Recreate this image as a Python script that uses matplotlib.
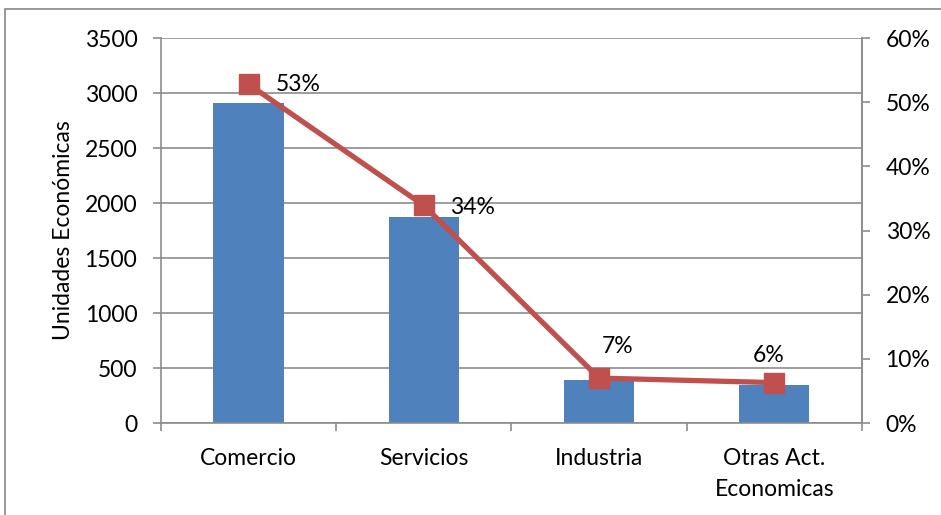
import matplotlib.pyplot as plt
from matplotlib.patches import Rectangle

# Data
categories = ['Comercio', 'Servicios', 'Industria', 'Otras Act.\nEconomicas']
unidades = [2910, 1870, 390, 345]
porcentaje = [52.8, 33.9, 7.0, 6.3]
pct_labels = ['53%', '34%', '7%', '6%']

plt.rcParams['font.family'] = ['Lato', 'DejaVu Sans']
plt.rcParams['font.size'] = 16.5

fig = plt.figure(figsize=(9.41, 5.15), dpi=100)
ax = fig.add_axes([0.171, 0.1786, 0.745, 0.7476])

# outer chart frame (only top/left edge visible)
fig.patches.append(Rectangle((0.0055, -0.1), 1.2, 1.0825, transform=fig.transFigure,
                             fill=False, edgecolor='#888888', linewidth=1.2))

grid_c = '#8c8c8c'
x = range(len(categories))
ax.bar(x, unidades, 0.4, color='#4F81BD', zorder=2)
ax.set_xlim(-0.5, 3.5)
ax.set_ylim(0, 3500)
ax.set_yticks(range(0, 3501, 500))
ax.yaxis.grid(True, color=grid_c, linewidth=1.2, zorder=0)
ax.set_xticks(list(x))
ax.set_xticklabels(categories, linespacing=1.6)
ax.set_xticks([-0.5, 0.5, 1.5, 2.5, 3.5], minor=True)
ax.tick_params(axis='x', which='major', length=0, pad=18)
ax.tick_params(axis='x', which='minor', length=6, color=grid_c, width=1.2)
ax.tick_params(axis='y', length=6, color=grid_c, width=1.2, pad=11)
ax.set_ylabel('Unidades Económicas')
ax.yaxis.label.set_va('center')
ax.yaxis.set_label_coords(-0.139, 0.5)
for s in ['top']:
    ax.spines[s].set_visible(False)
for s in ['left', 'right', 'bottom']:
    ax.spines[s].set_color(grid_c)
    ax.spines[s].set_linewidth(1.2)

ax2 = ax.twinx()
ax2.plot(x, porcentaje, color='#C0504D', linewidth=3.8, marker='s', markersize=14.5,
         zorder=3)
ax2.set_ylim(0, 60)
ax2.set_yticks(range(0, 61, 10))
ax2.set_yticklabels([f'{v}%' for v in range(0, 61, 10)])
ax2.tick_params(axis='y', length=6, color=grid_c, width=1.2, pad=11)
for s in ['top', 'left', 'bottom']:
    ax2.spines[s].set_visible(False)
ax2.spines['right'].set_color(grid_c)
ax2.spines['right'].set_linewidth(1.2)

offsets = [(19.4, 0, 'left'), (18.7, -1.8, 'left'),
           (13.3, 23, 'center'), (-4.3, 19.4, 'center')]
for i, (dx, dy, ha) in enumerate(offsets):
    ax2.annotate(pct_labels[i], (i, porcentaje[i]), xytext=(dx, dy),
                 textcoords='offset points', ha=ha, va='center')

fig.savefig('out.png', dpi=100)
